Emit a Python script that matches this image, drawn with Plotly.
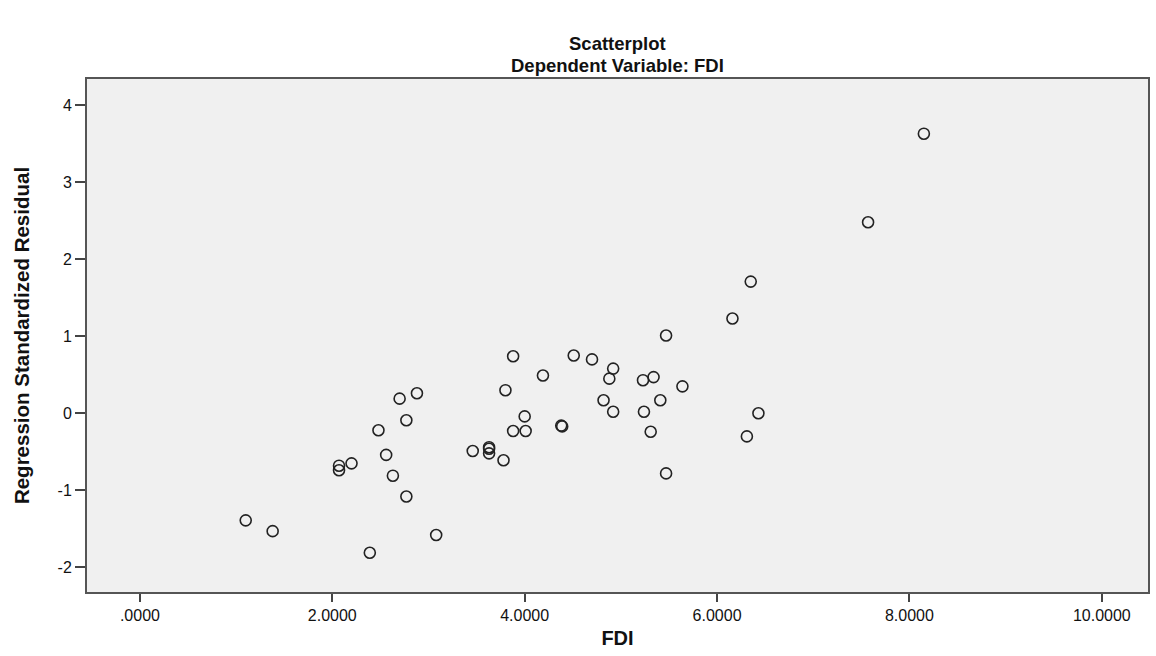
import plotly.graph_objects as go

# FDI (x) and Regression Standardized Residual (y)
fdi = [1.10, 1.38, 2.39, 2.07, 2.07, 2.20, 2.48, 2.56, 2.63, 2.77,
       2.70, 2.88, 2.77, 3.08, 3.88, 3.80, 4.19, 4.00, 3.88, 4.01,
       4.38, 4.39, 3.46, 3.63, 3.63, 3.63, 3.78, 4.51, 4.70, 4.92,
       4.88, 4.82, 4.92, 5.23, 5.34, 5.64, 5.41, 5.24, 5.31, 5.47,
       5.47, 6.16, 6.43, 6.31, 8.15, 7.57, 6.35]
resid = [-1.39, -1.53, -1.81, -0.68, -0.74, -0.65, -0.22, -0.54, -0.81, -1.08,
         0.19, 0.26, -0.09, -1.58, 0.74, 0.30, 0.49, -0.04, -0.23, -0.23,
         -0.16, -0.17, -0.49, -0.44, -0.46, -0.52, -0.61, 0.75, 0.70, 0.58,
         0.45, 0.17, 0.02, 0.43, 0.47, 0.35, 0.17, 0.02, -0.24, -0.78,
         1.01, 1.23, 0.00, -0.30, 3.63, 2.48, 1.71]

x_ticks = [0, 2, 4, 6, 8, 10]
x_labels = [".0000", "2.0000", "4.0000", "6.0000", "8.0000", "10.0000"]
y_ticks = [-2, -1, 0, 1, 2, 3, 4]
y_labels = ["-2", "-1", "0", "1", "2", "3", "4"]

fig = go.Figure()
fig.add_trace(go.Scatter(
    x=fdi, y=resid, mode="markers",
    marker=dict(symbol="circle-open", size=11, color="#222222",
                line=dict(width=1.6, color="#222222")),
    showlegend=False,
))

fig.update_layout(
    width=1156, height=656,
    margin=dict(l=87, r=6, t=79, b=64),
    paper_bgcolor="white",
    plot_bgcolor="#f0f0f0",
    font=dict(family="Arial, Liberation Sans, sans-serif", color="#111111", size=14),
    annotations=[
        dict(text="<b>Scatterplot</b>", xref="paper", yref="paper", x=0.5, y=1,
             yshift=36, showarrow=False, font=dict(size=18.5), yanchor="middle"),
        dict(text="<b>Dependent Variable: FDI</b>", xref="paper", yref="paper",
             x=0.5, y=1, yshift=14, showarrow=False, font=dict(size=18.5),
             yanchor="middle"),
    ],
)
fig.update_xaxes(
    range=[-0.55, 10.48], tickvals=x_ticks, ticktext=x_labels,
    showgrid=False, zeroline=False,
    showline=True, linecolor="#555555", linewidth=2, mirror=True,
    ticks="outside", ticklen=8, tickwidth=2, tickcolor="#444444",
    tickfont=dict(size=16),
    title=dict(text="<b>FDI</b>", font=dict(size=20), standoff=8),
)
fig.update_yaxes(
    range=[-2.32, 4.34], tickvals=y_ticks, ticktext=y_labels,
    showgrid=False, zeroline=False,
    showline=True, linecolor="#555555", linewidth=2, mirror=True,
    ticks="outside", ticklen=10, tickwidth=2, tickcolor="#444444",
    tickfont=dict(size=16),
    title=dict(text="<b>Regression Standardized Residual</b>",
               font=dict(size=20.5), standoff=22),
)

fig.write_html("out.html")
